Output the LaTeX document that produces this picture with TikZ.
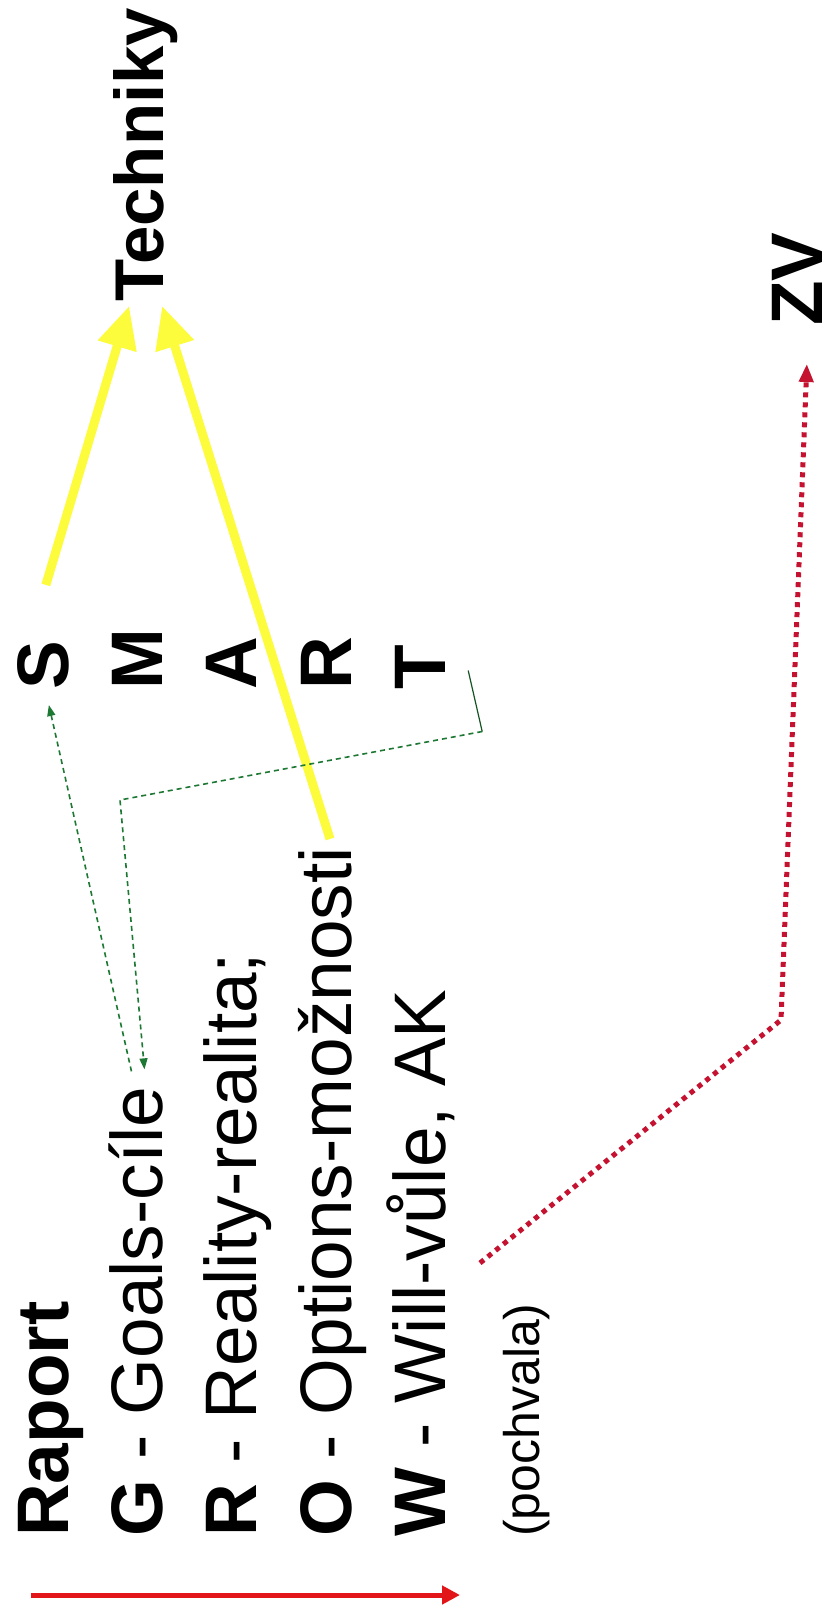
\documentclass[tikz,border=0pt]{standalone}
\usepackage{fontspec}
\setmainfont{Liberation Sans}
\usetikzlibrary{arrows.meta,calc}
\definecolor{hlyellow}{RGB}{252,252,60}
\definecolor{pathred}{RGB}{226,22,24}
\definecolor{dotred}{RGB}{196,18,48}
\definecolor{linkgreen}{RGB}{28,120,50}
\tikzset{
  lineitem/.style={font=\fontsize{73}{88}\selectfont, inner sep=0pt, rotate=90, anchor=base west},
  headword/.style={lineitem, font=\fontsize{73}{88}\selectfont\bfseries},
  note/.style={lineitem, font=\fontsize{50}{60}\selectfont},
  hlarrow/.style={-{Triangle[length=42pt,width=38pt]}, line width=9pt, draw=hlyellow},
  goarrow/.style={-{Triangle[length=18pt,width=18pt]}, line width=5pt, draw=pathred},
  zvarrow/.style={-{Triangle[length=18pt,width=14pt]}, line width=5pt, draw=dotred, dash pattern=on 5pt off 5pt},
  linkarrow/.style={-{Triangle[length=11pt,width=8pt]}, line width=1.6pt, draw=linkgreen, dash pattern=on 5pt off 4pt},
  linkline/.style={line width=1.2pt, draw=linkgreen!70!black},
}
\begin{document}
\begin{tikzpicture}[x=1pt, y=-1pt]
    \path[fill=white, use as bounding box] (0,0) rectangle (831,1620);
    \node[headword] (raport) at (68,1537) {Raport};
    \node[lineitem] (goals) at (162,1537) {\textbf{G} - Goals-cíle};
    \node[lineitem] (reality) at (256.5,1537) {\textbf{R} - Reality-realita;};
    \node[lineitem] (options) at (351,1537) {\textbf{O} - Options-možnosti};
    \node[lineitem] (will) at (445,1537) {\textbf{W} - Will-vůle, AK};
    \node[note] (praise) at (539,1537) {(pochvala)};
    \node[headword] (s) at (68,690) {S};
    \node[headword] (m) at (162,690) {M};
    \node[headword] (a) at (256.5,690) {A};
    \node[headword] (r) at (351,690) {R};
    \node[headword] (t) at (445,690) {T};
    \node[headword, font=\fontsize{69}{83}\selectfont\bfseries] (tech) at (163,302) {Techniky};
    \node[headword] (zv) at (822,326) {ZV};
    \coordinate (startpt) at (31,1595);
    \coordinate (endpt) at (460,1595);
    \coordinate (zvstart) at (480,1263);
    \coordinate (zvbend) at (781,1020);
    \coordinate (tbend) at ($(t.south)+(37,64)$);
    \coordinate (gbend) at (120,800);
    \draw[goarrow] (startpt) -- (endpt);
    \draw[hlarrow] ($(s.east)+(3,-56)$) -- ($(tech.west)+(-16,4)$);
    \draw[hlarrow] ($(options.east)+(-2,-8)$) -- ($(tech.west)+(17,4)$);
    \draw[linkarrow] ($(goals.east)+(-4,-15)$) -- ($(s.west)+(6,15)$);
    \draw[linkline] ($(t.south)+(23,3)$) -- (tbend);
    \draw[linkarrow] (tbend) -- (gbend) -- ($(goals.east)+(9,-17)$);
    \draw[zvarrow] (zvstart) -- (zvbend) -- ($(zv.west)+(10,38)$);
\end{tikzpicture}
\end{document}
